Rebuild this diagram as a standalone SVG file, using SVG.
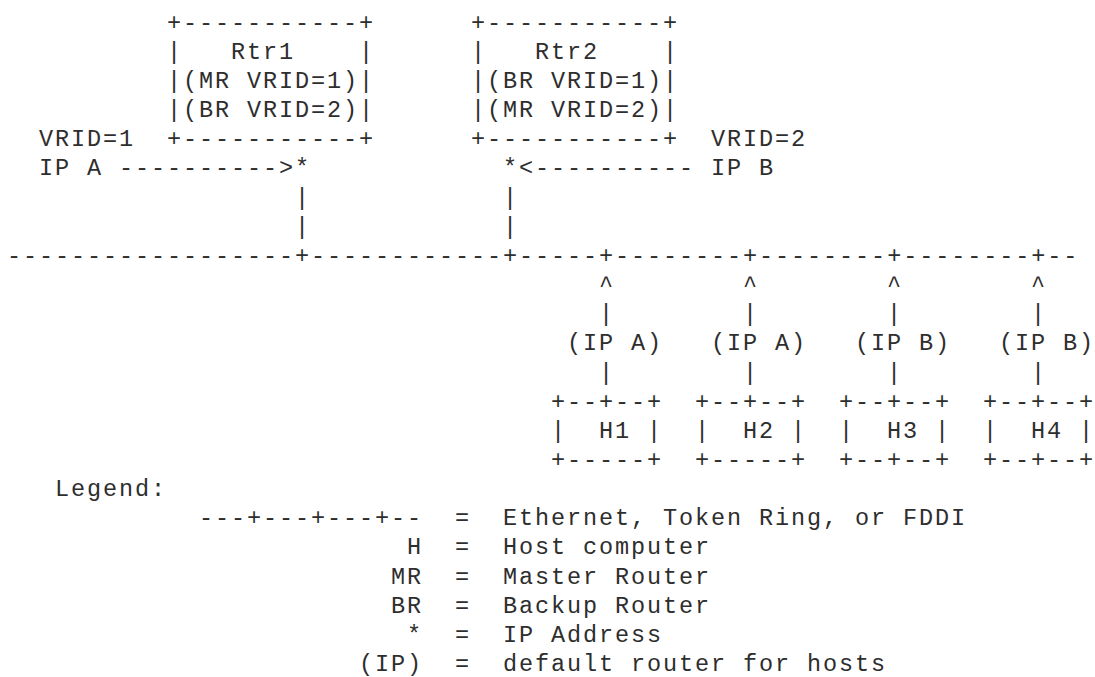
<svg xmlns="http://www.w3.org/2000/svg" width="1095" height="677" viewBox="0 0 1095 677" xml:space="preserve">
<style>
text { font-family: "Liberation Mono", "Courier New", monospace; font-size: 23.5px; letter-spacing: 1.9px; fill: #2e2e2e; white-space: pre; }
</style>
<rect width="1095" height="677" fill="#ffffff"/>
<g id="rtr1">
<text x="167" y="29.7">+-----------+</text>
<text x="167" y="58.85">|   Rtr1    |</text>
<text x="167" y="88">|(MR VRID=1)|</text>
<text x="167" y="117.15">|(BR VRID=2)|</text>
<text x="167" y="146.3">+-----------+</text>
</g>
<g id="rtr2">
<text x="471" y="29.7">+-----------+</text>
<text x="471" y="58.85">|   Rtr2    |</text>
<text x="471" y="88">|(BR VRID=1)|</text>
<text x="471" y="117.15">|(MR VRID=2)|</text>
<text x="471" y="146.3">+-----------+</text>
</g>
<g id="ip-a-label">
<text x="39" y="146.3">VRID=1</text>
<text x="39" y="175.45">IP A</text>
</g>
<g id="ip-b-label">
<text x="711" y="146.3">VRID=2</text>
<text x="711" y="175.45">IP B</text>
</g>
<g id="connectors">
<text x="119" y="175.45">----------&gt;*</text>
<text x="503" y="175.45">*&lt;----------</text>
<text x="295" y="204.6">|</text>
<text x="295" y="233.75">|</text>
<text x="503" y="204.6">|</text>
<text x="503" y="233.75">|</text>
<text x="7" y="262.9">------------------+------------+-----+--------+--------+--------+--</text>
<text x="599" y="292.05">^</text>
<text x="743" y="292.05">^</text>
<text x="887" y="292.05">^</text>
<text x="1031" y="292.05">^</text>
<text x="599" y="321.2">|</text>
<text x="743" y="321.2">|</text>
<text x="887" y="321.2">|</text>
<text x="1031" y="321.2">|</text>
<text x="567" y="350.35">(IP A)</text>
<text x="711" y="350.35">(IP A)</text>
<text x="855" y="350.35">(IP B)</text>
<text x="999" y="350.35">(IP B)</text>
<text x="599" y="379.5">|</text>
<text x="743" y="379.5">|</text>
<text x="887" y="379.5">|</text>
<text x="1031" y="379.5">|</text>
</g>
<g id="h1">
<text x="551" y="408.65">+--+--+</text>
<text x="551" y="437.8">|  H1 |</text>
<text x="551" y="466.95">+-----+</text>
</g>
<g id="h2">
<text x="695" y="408.65">+--+--+</text>
<text x="695" y="437.8">|  H2 |</text>
<text x="695" y="466.95">+-----+</text>
</g>
<g id="h3">
<text x="839" y="408.65">+--+--+</text>
<text x="839" y="437.8">|  H3 |</text>
<text x="839" y="466.95">+--+--+</text>
</g>
<g id="h4">
<text x="983" y="408.65">+--+--+</text>
<text x="983" y="437.8">|  H4 |</text>
<text x="983" y="466.95">+--+--+</text>
</g>
<g id="legend">
<text x="55" y="496.1">Legend:</text>
<text x="199" y="525.25">---+---+---+--  =  Ethernet, Token Ring, or FDDI</text>
<text x="407" y="554.4">H  =  Host computer</text>
<text x="391" y="583.55">MR  =  Master Router</text>
<text x="391" y="612.7">BR  =  Backup Router</text>
<text x="407" y="641.85">*  =  IP Address</text>
<text x="359" y="671">(IP)  =  default router for hosts</text>
</g>
</svg>
